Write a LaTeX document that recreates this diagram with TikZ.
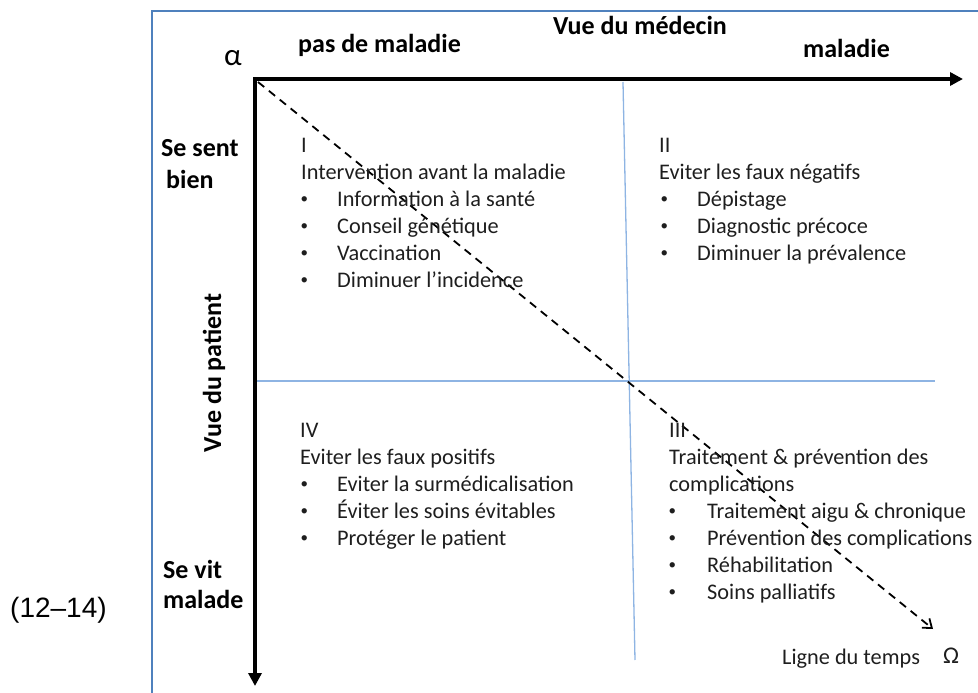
\documentclass[tikz,border=0pt]{standalone}
\usepackage{fontspec}
\setmainfont{Carlito}
\newfontfamily\arialf{Liberation Sans}
\usetikzlibrary{arrows.meta}
\definecolor{frameblue}{RGB}{79,129,189}
\definecolor{gridblue}{RGB}{142,180,227}
\definecolor{textgray}{RGB}{30,30,30}
\tikzset{
  txt/.style={anchor=base west, inner sep=0pt, text=textgray, font=\fontsize{22.3}{27}\selectfont},
  lbl/.style={anchor=base west, inner sep=0pt, font=\fontsize{26}{31}\selectfont\bfseries},
  axisline/.style={line width=4pt, {Triangle[length=13pt,width=13pt]}-{Triangle[length=13pt,width=13pt]}},
  quadline/.style={gridblue, line width=1.3pt},
  timeline/.style={dash pattern=on 8pt off 6pt, line width=1.8pt, -{Straight Barb[length=8pt,width=12pt]}},
  framestyle/.style={frameblue, line width=2.5pt}
}
\newcommand\bul[1]{\makebox[#1pt][l]{\hspace{1.5pt}\raisebox{2.2pt}{\fontsize{15}{15}\selectfont\textbullet}}}
\begin{document}
\begin{tikzpicture}[x=1pt,y=-1pt]
\useasboundingbox (0,0) rectangle (978,693);
% frame
\coordinate (fb) at (152,700);
\coordinate (fc) at (152,11);
\coordinate (fr) at (990,11);
\draw[framestyle] (fb) -- (fc) -- (fr);
% quadrant separators
\coordinate (vt) at (623,82);
\coordinate (vb) at (635,660);
\coordinate (hl) at (257,381);
\coordinate (hr) at (935,381);
\draw[quadline] (vt) -- (vb);
\draw[quadline] (hl) -- (hr);
% axes
\coordinate (O) at (255,79);
\coordinate (xend) at (963,79);
\coordinate (yend) at (255,686);
\draw[axisline] (yend) -- (O) -- (xend);
% time line
\coordinate (tstart) at (258,82);
\coordinate (tend) at (933,629);
\draw[timeline] (tstart) -- (tend);
% axis labels
\node[anchor=base west, inner sep=0pt, font=\fontsize{31}{36}\selectfont] (alpha) at (224,66) {α};
\node[lbl, anchor=base] (medecin) at (640,35) {Vue du médecin};
\node[lbl] (pasmal) at (298,53) {pas de maladie};
\node[lbl] (mal) at (803,58) {maladie};
\node[lbl] (sesent) at (161,157) {Se sent};
\node[lbl] (bien) at (166,188) {bien};
\node[lbl] (sevit) at (163,578) {Se vit};
\node[lbl] (malade) at (163,608) {malade};
\node[lbl, anchor=base, rotate=90] (patient) at (221,373) {Vue du patient};
\node[anchor=base west, inner sep=0pt, font=\arialf\fontsize{28}{33}\selectfont] (ref) at (10,617) {(12–14)};
\node[txt] (ligne) at (782,664) {Ligne du temps};
\node[anchor=base west, inner sep=0pt, text=textgray, font=\fontsize{24}{29}\selectfont] (omega) at (943,663) {Ω};
% quadrant I
\node[txt] (q1a) at (301,152) {I};
\node[txt] (q1b) at (301,179) {Intervention avant la maladie};
\node[txt] (q1c) at (299,206) {\bul{38}Information à la santé};
\node[txt] (q1d) at (299,233) {\bul{38}Conseil génétique};
\node[txt] (q1e) at (299,260) {\bul{38}Vaccination};
\node[txt] (q1f) at (299,287) {\bul{38}Diminuer l’incidence};
% quadrant II
\node[txt] (q2a) at (659,152) {II};
\node[txt] (q2b) at (659,179) {Eviter les faux négatifs};
\node[txt] (q2c) at (659,206) {\bul{38}Dépistage};
\node[txt] (q2d) at (659,233) {\bul{38}Diagnostic précoce};
\node[txt] (q2e) at (659,260) {\bul{38}Diminuer la prévalence};
% quadrant IV
\node[txt] (q4a) at (300,437) {IV};
\node[txt] (q4b) at (300,464) {Eviter les faux positifs};
\node[txt] (q4c) at (299,491) {\bul{38}Eviter la surmédicalisation};
\node[txt] (q4d) at (299,518) {\bul{38}Éviter les soins évitables};
\node[txt] (q4e) at (299,545) {\bul{38}Protéger le patient};
% quadrant III
\node[txt] (q3a) at (669,437) {III};
\node[txt] (q3b) at (669,464) {Traitement \& prévention des};
\node[txt] (q3c) at (669,491) {complications};
\node[txt] (q3d) at (667,518) {\bul{40}Traitement aigu \& chronique};
\node[txt] (q3e) at (667,545) {\bul{40}Prévention des complications};
\node[txt] (q3f) at (667,572) {\bul{40}Réhabilitation};
\node[txt] (q3g) at (667,599) {\bul{40}Soins palliatifs};
\end{tikzpicture}
\end{document}
